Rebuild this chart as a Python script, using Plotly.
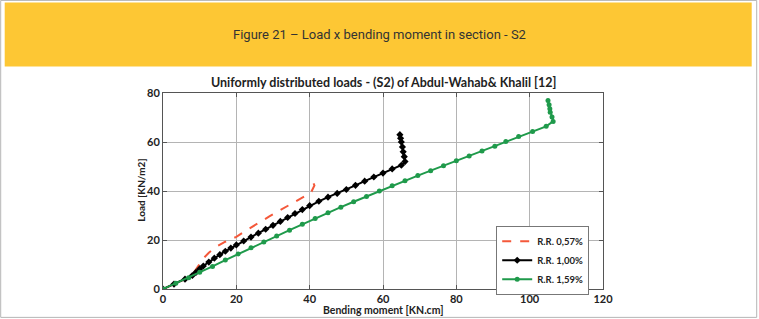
import plotly.graph_objects as go

# ---- data ----
red_x = [0, 3, 6, 8, 9, 10, 11, 12.5, 14.5, 17, 20, 23, 26, 29, 32, 35, 37.5, 39.5, 40.5, 41.0, 41.3, 41.0]
red_y = [0, 2, 4, 5.8, 8, 10.5, 12.5, 14.8, 17.2, 19.3, 21.3, 24.2, 27.0, 29.6, 32.2, 34.8, 36.8, 38.6, 39.8, 41.0, 42.3, 43.3]

black_x = [0, 3, 6, 8, 9, 10, 11, 12.5, 14, 15.5, 17, 18.5, 20, 22, 24, 26, 28, 30, 32, 34, 36, 38, 40,
           42.5, 45, 47.5, 50, 52.5, 55, 57.5, 60, 62.5, 65, 66, 65.8, 65.5, 65.3, 65.0, 64.8, 64.6]
black_y = [0, 2, 4, 5.5, 6.8, 8.2, 9.4, 11.0, 12.6, 14.0, 15.4, 16.7, 18.0, 19.6, 21.2, 22.8, 24.4, 26.0, 27.6, 29.2, 30.8, 32.4, 34.0,
           35.8, 37.5, 39.0, 40.6, 42.3, 44.0, 45.7, 47.3, 49.0, 50.5, 52.0, 54.0, 56.0, 58.0, 60.0, 61.5, 63.0]

green_x = [0, 3.5, 7, 10, 13.5, 17, 20.5, 24, 27.5, 31, 34.5, 38, 41.5, 45, 48.5, 52, 55.5, 59, 62.5, 66,
           69.5, 73, 76.5, 80, 83.5, 87, 90.5, 93.5, 97, 100.8, 104.5, 106.4, 106.1, 105.6, 105.5, 105.3, 105.0]
green_y = [0, 2.3, 4.6, 6.8, 9.2, 11.8, 14.3, 16.8, 19.2, 21.6, 24.0, 26.4, 28.8, 31.1, 33.4, 35.6, 37.8, 40.0, 42.1, 44.2,
           46.3, 48.3, 50.3, 52.3, 54.3, 56.3, 58.3, 60.2, 62.2, 64.3, 66.4, 68.4, 70.2, 72.1, 73.6, 75.2, 76.9]

names = ["R.R. 0,57%", "R.R. 1,00%", "R.R. 1,59%"]
x_ticks = [0, 20, 40, 60, 80, 100, 120]
y_ticks = [0, 20, 40, 60, 80]

RED = "#f4583a"
GREEN = "#1f9a4b"
FONT = "Lato, Open Sans, sans-serif"

fig = go.Figure()
fig.add_trace(go.Scatter(x=red_x, y=red_y, name=names[0], mode="lines",
                         line=dict(color=RED, width=2, dash="dash")))
fig.add_trace(go.Scatter(x=black_x, y=black_y, name=names[1], mode="lines+markers",
                         line=dict(color="black", width=2),
                         marker=dict(symbol="diamond", size=5.5, color="black")))
fig.add_trace(go.Scatter(x=green_x, y=green_y, name=names[2], mode="lines+markers",
                         line=dict(color=GREEN, width=2),
                         marker=dict(symbol="circle", size=5, color=GREEN)))

W, H = 759, 319
L, R, T, B = 163.3, 603.3, 93.3, 288.7


def px(x):
    return (x - L) / (R - L)


def py(y):
    return (B - y) / (B - T)


tickfont = dict(family=FONT, size=11, color="#222", weight="bold")
axis_common = dict(showgrid=True, gridcolor="#b4b4b4", gridwidth=1,
                   showline=True, linecolor="#555", linewidth=1, mirror="ticks",
                   ticks="inside", ticklen=4, tickcolor="#555", zeroline=False,
                   tickfont=tickfont, ticklabelstandoff=0)

fig.update_layout(
    width=W, height=H, autosize=False,
    margin=dict(l=L, r=W - R, t=T, b=H - B),
    paper_bgcolor="white", plot_bgcolor="white",
    showlegend=True,
    legend=dict(x=px(543), y=py(260), xanchor="center", yanchor="middle",
                bgcolor="white", bordercolor="#777", borderwidth=1,
                font=dict(family=FONT, size=9.5, color="#222", weight="bold"),
                itemwidth=30, tracegroupgap=0),
    xaxis=dict(range=[0, 120], tickvals=x_ticks, ticktext=[str(v) for v in x_ticks], **axis_common),
    yaxis=dict(range=[0, 80], tickvals=y_ticks, ticktext=[str(v) for v in y_ticks], **axis_common),
)

# header band and outer frame
fig.add_shape(type="rect", xref="paper", yref="paper",
              x0=px(1), x1=px(757), y0=py(317), y1=py(1),
              line=dict(color="#b5b5b5", width=1), fillcolor="rgba(0,0,0,0)", layer="above")
fig.add_shape(type="rect", xref="paper", yref="paper",
              x0=px(5), x1=px(752), y0=py(67), y1=py(3),
              line=dict(width=0), fillcolor="#fdc734", layer="above")

fig.add_annotation(xref="paper", yref="paper", x=px(380), y=py(35),
                   text="Figure 21 – Load x bending moment in section - S2",
                   showarrow=False, xanchor="center", yanchor="middle",
                   font=dict(family="Roboto, sans-serif", size=13, color="#333"))

fig.add_annotation(xref="paper", yref="paper", x=0.5, y=py(83),
                   text="Uniformly distributed loads - (S2) of Abdul-Wahab& Khalil [12]",
                   showarrow=False, xanchor="center", yanchor="middle",
                   font=dict(family=FONT, size=12.5, color="#222", weight="bold"))

fig.add_annotation(xref="paper", yref="paper", x=0.5, y=py(310),
                   text="Bending moment [KN.cm]",
                   showarrow=False, xanchor="center", yanchor="middle",
                   font=dict(family=FONT, size=10.5, color="#222", weight="bold"))

fig.add_annotation(xref="paper", yref="paper", x=px(141), y=py(190),
                   text="Load [KN/m2]", textangle=-90,
                   showarrow=False, xanchor="center", yanchor="middle",
                   font=dict(family=FONT, size=10, color="#222", weight="bold"))

fig.write_html("out.html")
